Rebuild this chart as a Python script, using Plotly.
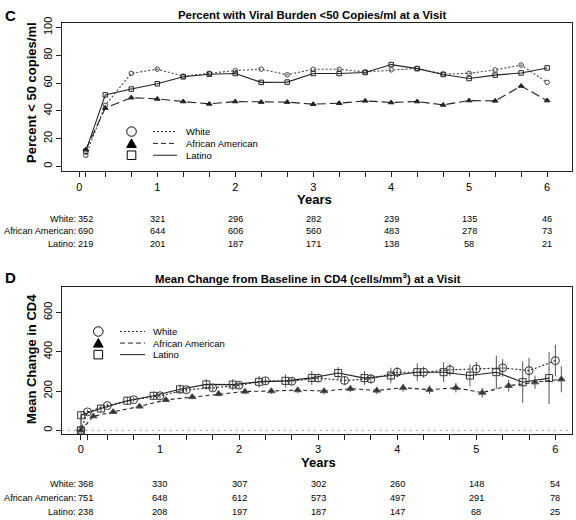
import plotly.graph_objects as go

W, H = 576, 520

# ---------------- Panel C : % viral burden < 50 copies/ml ----------------
vl_years = [1/12] + [k / 3 for k in range(1, 19)]
vl_white = [8, 44, 67, 70, 65, 67, 69, 70, 66, 70, 70, 68, 69.5, 70.5, 66.5, 67, 69.5, 73, 60.5]
vl_aa = [12, 42, 49.5, 48.6, 46.7, 45, 46.7, 46.3, 46.3, 44.8, 45.5, 47.2, 46, 46.7, 44.3, 47.4, 47.2, 57.9, 47.4]
vl_latino = [11, 51.5, 55.7, 59.5, 64.5, 66.4, 66.9, 60.5, 60.7, 66.9, 66.9, 67.6, 73.3, 70.4, 66.2, 63.3, 65.7, 67.3, 70.9]

vl_n_years = [0, 1, 2, 3, 4, 5, 6]
vl_n_white = [352, 321, 296, 282, 239, 135, 46]
vl_n_aa = [690, 644, 606, 560, 483, 278, 73]
vl_n_latino = [219, 201, 187, 171, 138, 58, 21]

# ---------------- Panel D : mean change in CD4 ----------------
cd4_years = [0, 1/12] + [k / 3 for k in range(1, 19)]
cd4_white = [0, 94, 126, 156, 176, 207, 216, 230, 252, 250, 266, 254, 262, 296, 296, 308, 313, 318, 304, 355]
cd4_aa = [0, 72, 94, 122, 155, 170, 186, 198, 200, 205, 200, 212, 203, 217, 207, 217, 192, 227, 245, 260]
cd4_latino = [0, 77, 111, 151, 176, 209, 234, 233, 247, 252, 267, 292, 266, 279, 296, 296, 279, 296, 245, 266]
cd4_white_err = [0, 12, 12, 13, 14, 15, 16, 17, 18, 19, 20, 22, 24, 26, 28, 30, 35, 45, 65, 80]
cd4_aa_err = [0, 8, 9, 10, 11, 12, 13, 14, 15, 16, 17, 18, 19, 20, 22, 24, 25, 30, 34, 66]
cd4_latino_err = [0, 15, 18, 20, 22, 24, 26, 28, 30, 33, 36, 30, 35, 40, 45, 50, 55, 85, 105, 132]

cd4_n_years = [0, 1, 2, 3, 4, 5, 6]
cd4_n_white = [368, 330, 307, 302, 260, 148, 54]
cd4_n_aa = [751, 648, 612, 573, 497, 291, 78]
cd4_n_latino = [238, 208, 197, 187, 147, 68, 25]

groups = ["White", "African American", "Latino"]

# ---------------- style ----------------
FONT = "Liberation Sans, Arial, Helvetica, sans-serif"
INK = "#222222"
GREY = "#555555"
JITTER = {"White": 0.0, "African American": 0.075, "Latino": -0.08}


def px(x):
    return x / W


def py(y):
    return 1 - y / H


fig = go.Figure()

# Panel C traces
vl_styles = {
    "White": dict(y=vl_white, dash="2px,2px", symbol="circle-open", size=4.5, color="#444444"),
    "African American": dict(y=vl_aa, dash="9px,4px", symbol="triangle-up", size=5, color=INK),
    "Latino": dict(y=vl_latino, dash="solid", symbol="square-open", size=4.5, color=INK),
}
for g in groups:
    s = vl_styles[g]
    fig.add_trace(go.Scatter(
        x=vl_years, y=s["y"], mode="lines+markers", name=g, showlegend=False,
        line=dict(color=s["color"], width=1.1, dash=s["dash"]),
        marker=dict(symbol=s["symbol"], size=s["size"], color=s["color"],
                    line=dict(color=s["color"], width=1)),
        xaxis="x", yaxis="y"))

# Panel D traces
cd4_styles = {
    "Latino": dict(y=cd4_latino, e=cd4_latino_err, dash="solid", symbol="square-open", size=7),
    "African American": dict(y=cd4_aa, e=cd4_aa_err, dash="4px,3px", symbol="triangle-up", size=6.5),
    "White": dict(y=cd4_white, e=cd4_white_err, dash="2px,2px", symbol="circle-open", size=8),
}
for g in ["Latino", "African American", "White"]:
    s = cd4_styles[g]
    xs = [t + (JITTER[g] if t > 0 else 0) for t in cd4_years]
    fig.add_trace(go.Scatter(
        x=xs, y=s["y"], mode="lines+markers", name=g, showlegend=False,
        line=dict(color=INK, width=1.1, dash=s["dash"]),
        marker=dict(symbol=s["symbol"], size=s["size"], color="#333333",
                    line=dict(color="#555555", width=1)),
        error_y=dict(type="data", array=s["e"], visible=True, width=0,
                     thickness=1, color=GREY),
        xaxis="x2", yaxis="y2"))

XDOM = [px(62.3), px(572)]
minor_vals = [1/12] + [k / 3 for k in range(1, 19) if k % 3 != 0]

axis_common = dict(showline=True, mirror=True, linecolor=INK, linewidth=1,
                   showgrid=False, zeroline=False, ticks="outside", ticklen=5,
                   tickcolor=INK, tickfont=dict(size=11, color="black", family=FONT))

fig.update_layout(
    width=W, height=H, autosize=False,
    margin=dict(l=0, r=0, t=0, b=0),
    paper_bgcolor="white", plot_bgcolor="white",
    font=dict(family=FONT, color="black"),
    xaxis=dict(domain=XDOM, anchor="y", range=[-0.218, 6.319],
               tickvals=[0, 1, 2, 3, 4, 5, 6],
               minor=dict(tickvals=minor_vals, ticks="outside", ticklen=5,
                          tickcolor=INK, showgrid=False), **axis_common),
    yaxis=dict(domain=[py(167.3), py(16.7)], anchor="x", range=[-3.56, 103.6],
               tickvals=[0, 20, 40, 60, 80, 100], tickangle=-90, **axis_common),
    xaxis2=dict(domain=XDOM, anchor="y2", range=[-0.235, 6.21],
                tickvals=[0, 1, 2, 3, 4, 5, 6],
                minor=dict(tickvals=minor_vals, ticks="outside", ticklen=5,
                           tickcolor=INK, showgrid=False), **axis_common),
    yaxis2=dict(domain=[py(432.7), py(284)], anchor="x2", range=[-17, 731],
                tickvals=[0, 200, 400, 600], tickangle=-90, **axis_common),
)

# dotted zero reference line in panel D
fig.add_shape(type="line", xref="x2 domain", yref="y2", x0=0, x1=1, y0=0, y1=0,
              line=dict(color=GREY, width=1, dash="1px,5px"), layer="below")

annotations = []


def ann(text, x, y, size, xanchor="center", yanchor="middle", angle=0, xref="paper", pad=1):
    annotations.append(dict(text=text, x=x if xref != "paper" else px(x), y=py(y),
                            xref=xref, yref="paper", showarrow=False,
                            xanchor=xanchor, yanchor=yanchor, textangle=angle,
                            borderpad=pad,
                            font=dict(size=size, family=FONT, color="black")))


# Titles and labels
ann("<b>C</b>", 10, 10, 15)
ann("<b>Percent with Viral Burden <50 Copies/ml at a Visit</b>", 312, 9, 11.4)
ann("<b>Percent < 50 copies/ml</b>", 32, 88, 13, angle=-90)
ann("<b>Years</b>", 314, 196, 13)

ann("<b>D</b>", 10, 275, 15)
ann("<b>Mean Change from Baseline in CD4 (cells/mm<sup>3</sup>) at a Visit</b>", 308, 275, 11.4)
ann("<b>Mean Change in CD4</b>", 32, 357, 13, angle=-90)
ann("<b>Years</b>", 318, 462, 13)

# Number-at-risk tables
def table(years, rows, ys, xref):
    for (label, counts), yy in zip(rows, ys):
        ann(label + ":", 77, yy, 9.2, xanchor="right", pad=0)
        ann(str(counts[0]), 77, yy, 9.2, xanchor="left", pad=0)
        for t, c in zip(years[1:], counts[1:]):
            ann(str(c), t, yy, 9.2, xref=xref, pad=0)


table(vl_n_years, [("White", vl_n_white), ("African American", vl_n_aa),
                   ("Latino", vl_n_latino)], [215, 228, 241], "x")
table(cd4_n_years, [("White", cd4_n_white), ("African American", cd4_n_aa),
                    ("Latino", cd4_n_latino)], [484, 498, 512], "x2")

# Hand-drawn legends (symbol column, line column, label column)
def legend(sx, lx0, lx1, tx, ys, r):
    shapes = []
    y0, y1, y2 = ys
    shapes.append(dict(type="circle", xref="paper", yref="paper",
                       x0=px(sx - r), x1=px(sx + r), y0=py(y0 + r), y1=py(y0 - r),
                       line=dict(color="black", width=1)))
    shapes.append(dict(type="path", xref="paper", yref="paper",
                       path=f"M {px(sx - r)} {py(y1 + r * 0.85)} L {px(sx + r)} {py(y1 + r * 0.85)} "
                            f"L {px(sx)} {py(y1 - r * 0.95)} Z",
                       fillcolor="black", line=dict(color="black", width=1)))
    shapes.append(dict(type="rect", xref="paper", yref="paper",
                       x0=px(sx - r * 0.9), x1=px(sx + r * 0.9),
                       y0=py(y2 + r * 0.9), y1=py(y2 - r * 0.9),
                       line=dict(color="black", width=1)))
    for yy, dash in zip(ys, ["2px,2px", "5px,3px", "solid"]):
        shapes.append(dict(type="line", xref="paper", yref="paper",
                           x0=px(lx0), x1=px(lx1), y0=py(yy), y1=py(yy),
                           line=dict(color=INK, width=1, dash=dash)))
    for yy, g in zip(ys, groups):
        ann(g, tx, yy, 9.5, xanchor="left")
    for s in shapes:
        fig.add_shape(**s)


legend(131.5, 153, 177, 183.5, [127, 139, 151], 4.8)
legend(98.3, 120, 145, 151, [329.3, 341, 352.7], 4.8)

fig.update_layout(annotations=annotations)
fig.write_html("out.html",
               config={"displayModeBar": False, "staticPlot": True},
               post_script="document.body.style.margin='0';document.body.style.padding='0';")
